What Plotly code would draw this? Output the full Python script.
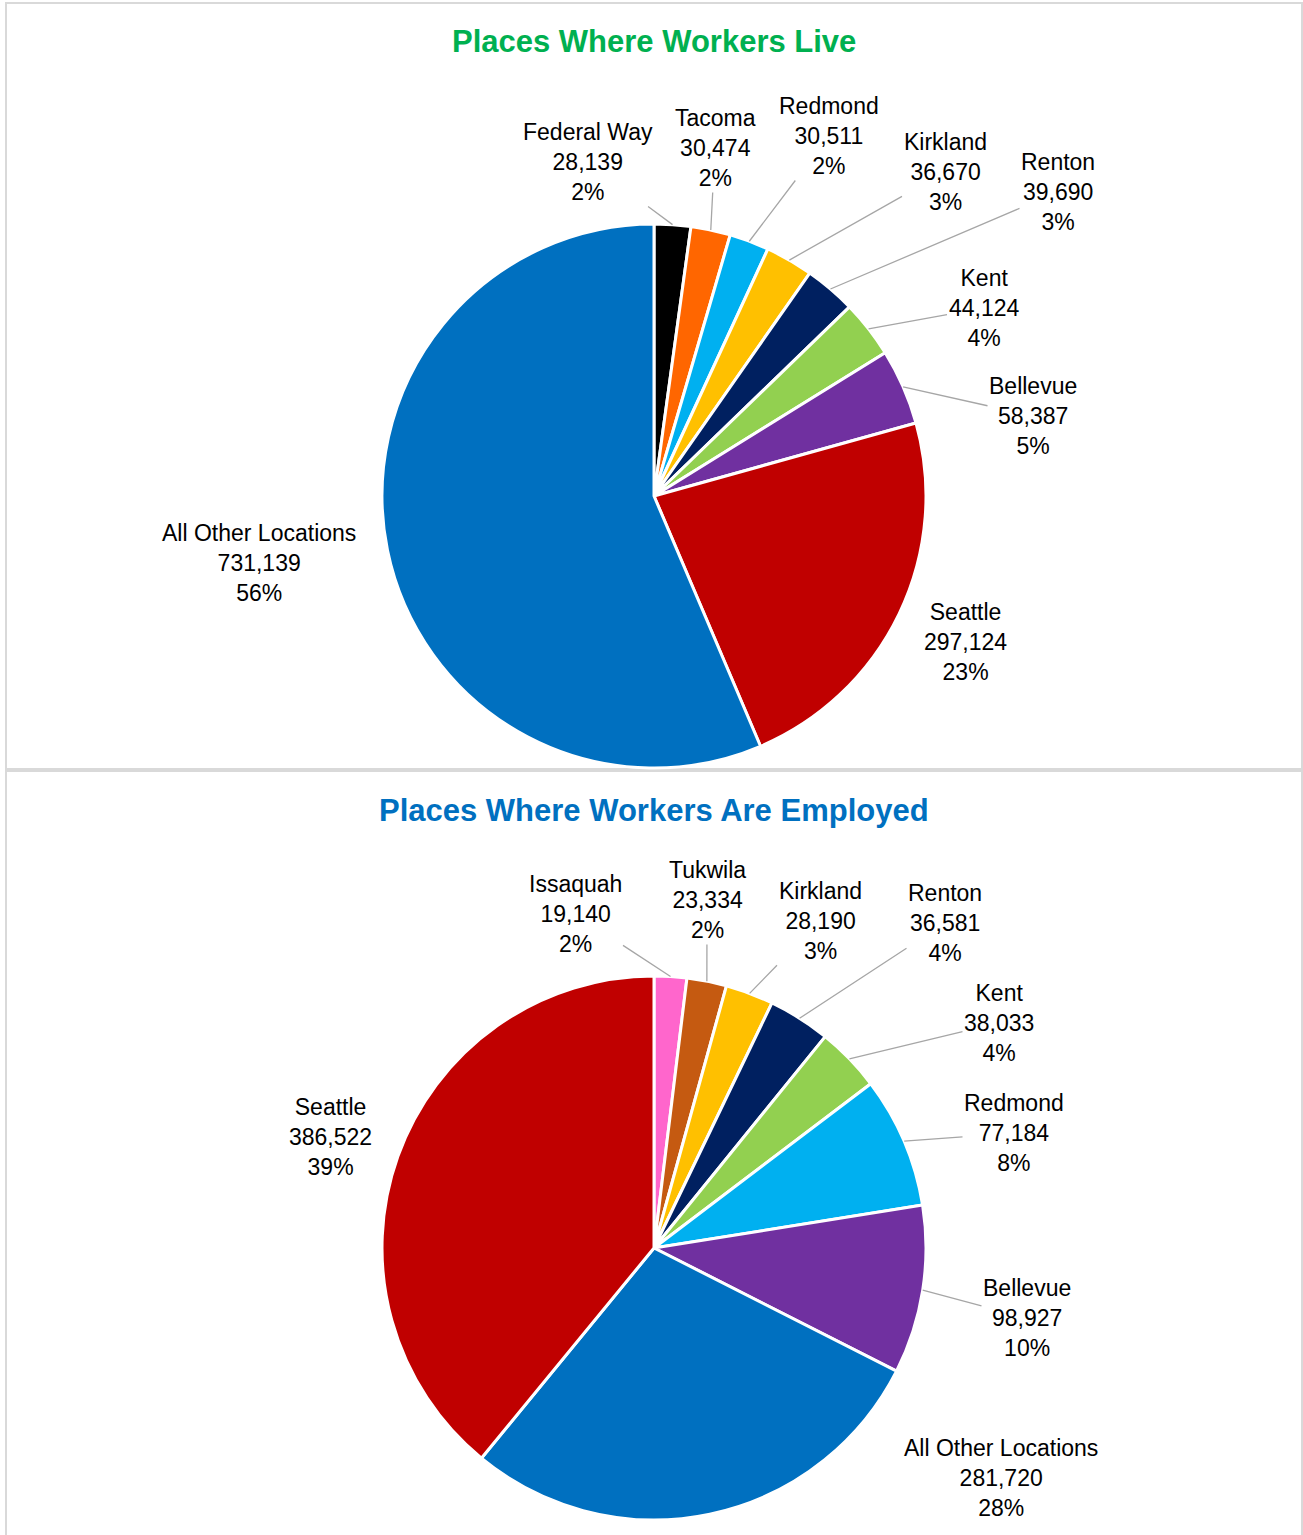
import math
import plotly.graph_objects as go

# ---- data ----
LIVE_PLACES = ["Federal Way", "Tacoma", "Redmond", "Kirkland", "Renton", "Kent",
               "Bellevue", "Seattle", "All Other Locations"]
LIVE_WORKERS = [28139, 30474, 30511, 36670, 39690, 44124, 58387, 297124, 731139]
LIVE_PCT = ["2%", "2%", "2%", "3%", "3%", "4%", "5%", "23%", "56%"]

WORK_PLACES = ["Issaquah", "Tukwila", "Kirkland", "Renton", "Kent", "Redmond",
               "Bellevue", "All Other Locations", "Seattle"]
WORK_WORKERS = [19140, 23334, 28190, 36581, 38033, 77184, 98927, 281720, 386522]
WORK_PCT = ["2%", "2%", "3%", "4%", "4%", "8%", "10%", "28%", "39%"]

PLACE_COLORS = {
    "Federal Way": "#000000", "Tacoma": "#FF6600", "Redmond": "#00B0F0",
    "Kirkland": "#FFC000", "Renton": "#002060", "Kent": "#92D050",
    "Bellevue": "#7030A0", "Seattle": "#C00000", "All Other Locations": "#0070C0",
    "Issaquah": "#FF66CC", "Tukwila": "#C55A11",
}

# ---- layout (page pixels) ----
W, H = 1303, 1535
R = 272
LIVE_CENTER = (654, 496)
WORK_CENTER = (654, 1248)
# label text centres, and whether a leader line is drawn
LIVE_LABEL_XY = [(588, 162), (715, 148), (829, 136), (945, 172), (1058, 192),
                 (984, 308), (1033, 416), (965, 642), (259, 563)]
WORK_LABEL_XY = [(575, 914), (707, 900), (820, 921), (945, 923), (999, 1023),
                 (1014, 1133), (1027, 1318), (1001, 1478), (330, 1137)]
LEADERS = [True] * 7 + [False] * 2

FONT = "Arial, Liberation Sans, sans-serif"
LABEL_SIZE = 23


def px(x, y):
    return x / W, 1 - y / H


def pie_trace(places, workers, center):
    cx, cy = center
    x0, y1 = px(cx - R, cy - R)
    x1, y0 = px(cx + R, cy + R)
    return go.Pie(
        labels=places, values=workers, sort=False, direction="clockwise", rotation=0,
        marker=dict(colors=[PLACE_COLORS[p] for p in places], line=dict(color="white", width=3)),
        textinfo="none", hoverinfo="label+value+percent", showlegend=False,
        domain=dict(x=[x0, x1], y=[y0, y1]),
    )


def label_annotations(places, workers, pcts, center, label_xy):
    total = sum(workers)
    cx, cy = center
    anns = []
    cum = 0
    for place, v, pct, (lx, ly), lead in zip(places, workers, pcts, label_xy, LEADERS):
        theta = 2 * math.pi * (cum + v / 2) / total
        cum += v
        text = f"{place}<br>{v:,}<br>{pct}"
        font = dict(size=LABEL_SIZE, color="black", family=FONT)
        if lead:
            ex, ey = cx + R * math.sin(theta), cy - R * math.cos(theta)
            x, y = px(ex, ey)
            anns.append(dict(x=x, y=y, xref="paper", yref="paper", text=text,
                             showarrow=True, arrowhead=0, arrowwidth=1.3, arrowcolor="#A6A6A6",
                             ax=lx - ex, ay=ly - ey, standoff=0, font=font))
        else:
            x, y = px(lx, ly)
            anns.append(dict(x=x, y=y, xref="paper", yref="paper", text=text, showarrow=False,
                             xanchor="center", yanchor="middle", font=font))
    return anns


fig = go.Figure()
fig.add_trace(pie_trace(LIVE_PLACES, LIVE_WORKERS, LIVE_CENTER))
fig.add_trace(pie_trace(WORK_PLACES, WORK_WORKERS, WORK_CENTER))

annotations = []
annotations += label_annotations(LIVE_PLACES, LIVE_WORKERS, LIVE_PCT, LIVE_CENTER, LIVE_LABEL_XY)
annotations += label_annotations(WORK_PLACES, WORK_WORKERS, WORK_PCT, WORK_CENTER, WORK_LABEL_XY)

for text, color, ty in [("Places Where Workers Live", "#00B050", 42),
                        ("Places Where Workers Are Employed", "#0070C0", 810)]:
    x, y = px(654, ty)
    annotations.append(dict(x=x, y=y, xref="paper", yref="paper", showarrow=False,
                            xanchor="center", yanchor="middle", text=f"<b>{text}</b>",
                            font=dict(size=31, color=color, family=FONT)))

shapes = []
for top, bottom in [(3, 769), (771, 1560)]:
    x0, y1 = px(6, top)
    x1, y0 = px(1302, bottom)
    shapes.append(dict(type="rect", xref="paper", yref="paper", x0=x0, x1=x1, y0=y0, y1=y1,
                       line=dict(color="#D9D9D9", width=2), layer="below"))

fig.update_layout(
    width=W, height=H,
    margin=dict(l=0, r=0, t=0, b=0),
    paper_bgcolor="white", plot_bgcolor="white",
    annotations=annotations, shapes=shapes,
    font=dict(family=FONT),
)

# drop the page's default body margin so the figure sits at the window origin
fig.write_html("out.html", config={"displayModeBar": False},
               post_script="document.body.style.margin = '0';")
